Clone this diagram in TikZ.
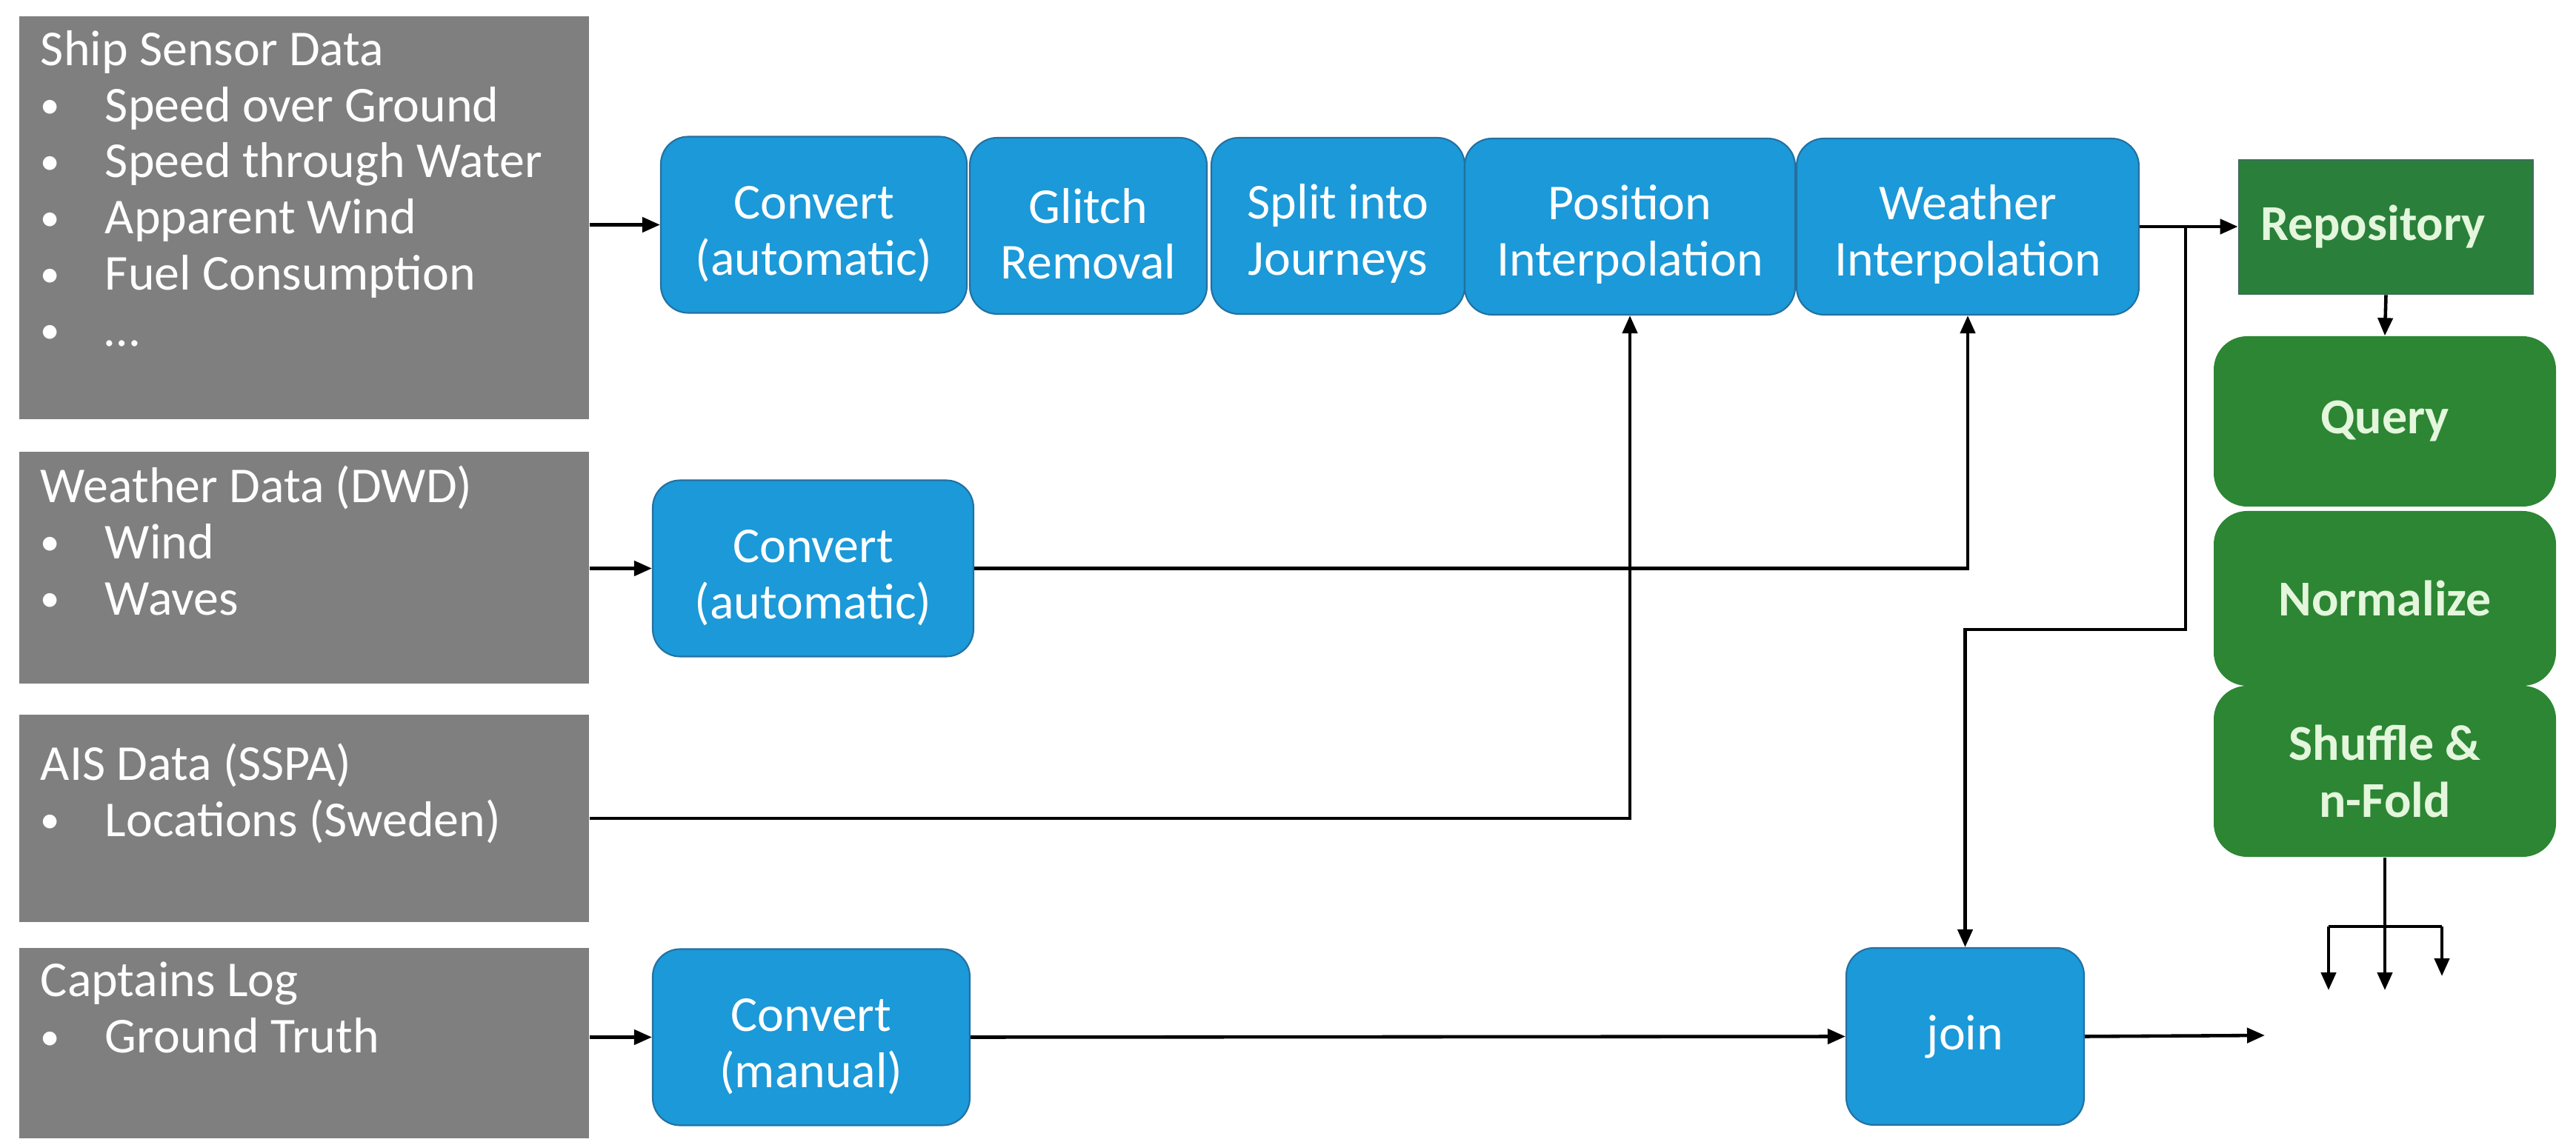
\documentclass[tikz,border=0pt]{standalone}
\usepackage{fontspec}
\setmainfont{Carlito}
\usetikzlibrary{arrows.meta}

\definecolor{srcgray}{RGB}{127,127,127}
\definecolor{stepblue}{RGB}{27,153,216}
\definecolor{stepedge}{RGB}{36,112,160}
\definecolor{mlgreen}{RGB}{44,134,52}
\definecolor{repogreen}{RGB}{42,128,58}
\definecolor{repoedge}{RGB}{60,110,90}
\definecolor{mltext}{RGB}{228,246,220}

\newcommand{\itm}{\makebox[0.87cm][l]{\raisebox{1.3pt}{\fontsize{15}{15}\selectfont\textbullet}}}
\newcommand{\toprule}{\rule{0pt}{19.5pt}}

\begin{document}
\begin{tikzpicture}
	\tikzstyle{every node}+=[inner sep=0pt, font=\fontsize{19.3}{21.6}\selectfont]
	\tikzstyle{srcbox}=[fill=srcgray, minimum width=7.69cm]
	\tikzstyle{srctext}=[anchor=north west, align=left, text=white, inner xsep=0.29cm, inner ysep=0.19cm, execute at begin node=\strut]
	\tikzstyle{stepbox}=[rounded corners=0.37cm, fill=stepblue, draw=stepedge, line width=0.6pt, text=white, align=center, minimum height=2.38cm]
	\tikzstyle{mlbox}=[rounded corners=0.45cm, fill=mlgreen, text=mltext, font=\fontsize{19.3}{22}\selectfont\bfseries, align=center, minimum width=4.62cm]
	\tikzstyle{flow}=[line width=1.3pt, -{Triangle[length=0.24cm,width=0.2cm]}]
	\tikzstyle{wire}=[line width=1.3pt]
	\useasboundingbox (0,0) rectangle (34.77,-15.42);
	% data sources
	\node[srcbox, minimum height=5.44cm] (ship) at (4.105,-2.94) {};
	\node[srctext] (shiptxt) at (ship.north west) {Ship Sensor Data\\ \itm Speed over Ground\\ \itm Speed through Water\\ \itm Apparent Wind\\ \itm Fuel Consumption\\ \itm …};
	\node[srcbox, minimum height=3.13cm] (weather) at (4.105,-7.665) {};
	\node[srctext] (weathertxt) at (weather.north west) {Weather Data (DWD)\\ \itm Wind\\ \itm Waves};
	\node[srcbox, minimum height=2.80cm] (ais) at (4.105,-11.05) {};
	\node[srctext, yshift=-0.2cm] (aistxt) at (ais.north west) {AIS Data (SSPA)\\ \itm Locations (Sweden)};
	\node[srcbox, minimum height=2.57cm] (captain) at (4.105,-14.085) {};
	\node[srctext] (captaintxt) at (captain.north west) {Captains Log\\ \itm Ground Truth};
	% processing steps
	\node[stepbox, minimum width=4.13cm] (conv1) at (10.985,-3.035) {\toprule Convert\\(automatic)};
	\node[stepbox, minimum width=3.20cm] (glitch) at (14.69,-3.05) {\toprule Glitch\\Removal};
	\node[stepbox, minimum width=3.42cm] (journeys) at (18.06,-3.05) {\toprule Split into\\Journeys};
	\node[stepbox, minimum width=4.46cm] (posint) at (22.0,-3.06) {\toprule Position\\Interpolation};
	\node[stepbox, minimum width=4.62cm] (weaint) at (26.56,-3.06) {\toprule Weather\\Interpolation};
	\node[stepbox, minimum width=4.33cm] (conv2) at (10.975,-7.675) {\toprule Convert\\(automatic)};
	\node[stepbox, minimum width=4.28cm] (conv3) at (10.95,-14.005) {\toprule Convert\\(manual)};
	\node[stepbox, minimum width=3.21cm, minimum height=2.39cm] (join) at (26.525,-13.995) {join};
	% repository and learning steps
	\node[fill=repogreen, draw=repoedge, line width=0.8pt, minimum width=3.97cm, minimum height=1.81cm, text width=3.39cm, align=left, inner xsep=0.29cm, text=mltext, font=\fontsize{19.3}{22}\selectfont\bfseries] (repo) at (32.205,-3.065) {Repository};
	\node[mlbox, minimum height=2.30cm] (query) at (32.19,-5.69) {Query};
	\node[mlbox, minimum height=2.36cm] (normalize) at (32.19,-8.08) {Normalize};
	\node[mlbox, minimum height=2.31cm] (shuffle) at (32.19,-10.415) {Shuffle \&\\n-Fold};
	% connectors
	\draw[flow] (ship.east |- conv1.west) -- (conv1.west);
	\draw[flow] (weather.east |- conv2.west) -- (conv2.west);
	\draw[flow] (captain.east |- conv3.west) -- (conv3.west);
	\draw[flow] (conv2.east) -| (weaint.south);
	\draw[flow] (ais.east) -| (posint.south);
	\draw[flow] (weaint.east) -- (weaint.east -| repo.west);
	\coordinate (tap) at (29.5,-3.06);
	\coordinate (tapbend) at (29.5,-8.5);
	\draw[flow] (tap) -- (tapbend) -| (join.north);
	\draw[flow] (repo.south) -- (query.north);
	\draw[flow] (conv3.east) -- (join.west);
	\coordinate (joinout) at (30.57,-13.98);
	\draw[flow] (join.east) -- (joinout);
	\coordinate (fan) at (32.19,-12.51);
	\coordinate (fanl) at (31.43,-12.51);
	\coordinate (fanr) at (32.96,-12.51);
	\coordinate (fold1) at (31.43,-13.37);
	\coordinate (fold2) at (32.19,-13.37);
	\coordinate (fold3) at (32.96,-13.18);
	\draw[wire] (shuffle.south) -- (fan);
	\draw[wire] (fanl) -- (fanr);
	\draw[flow] (fanl) -- (fold1);
	\draw[flow] (fan) -- (fold2);
	\draw[flow] (fanr) -- (fold3);
\end{tikzpicture}
\end{document}
